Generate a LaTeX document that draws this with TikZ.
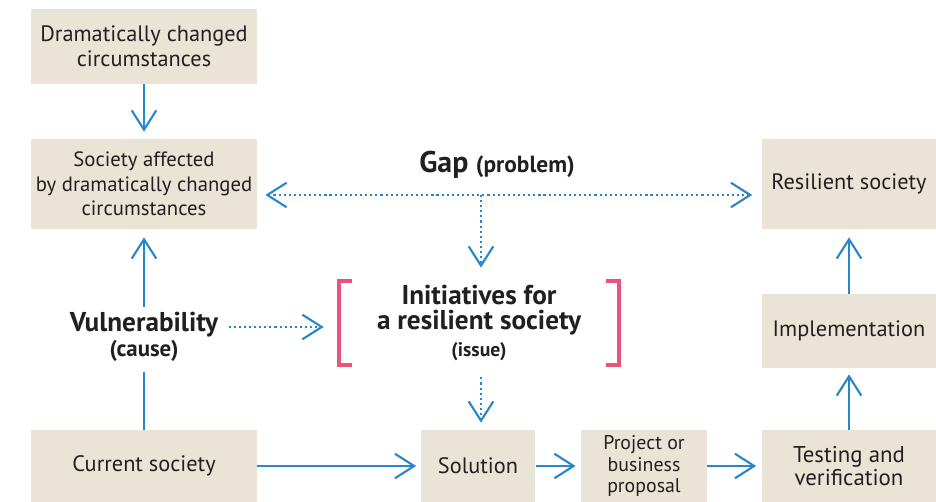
\documentclass[tikz,border=0pt]{standalone}
\usepackage{fontspec}
\setmainfont{PT Sans}
\usetikzlibrary{arrows.meta,positioning}

\definecolor{boxbeige}{RGB}{234,228,214}
\definecolor{flowblue}{RGB}{40,134,202}
\definecolor{bracketpink}{RGB}{233,84,124}
\definecolor{inkgray}{RGB}{35,31,32}

\tikzset{
    box/.style={fill=boxbeige, text=inkgray, align=center, inner sep=0pt,
        font=\fontsize{12.7}{14}\selectfont},
    flow/.style={draw=flowblue, line width=1.2pt, -{Straight Barb[length=11pt,width=14pt]}},
    hint/.style={flow, dash pattern=on 1.2pt off 1.7pt},
    cue/.style={text=inkgray, align=center, inner sep=0pt, font=\fontsize{15.5}{14.6}\selectfont\bfseries},
    bracket/.style={draw=bracketpink, line width=2.3pt},
}

\begin{document}
\begin{tikzpicture}[x=0.02cm, y=-0.02cm]

    \useasboundingbox (0,0) rectangle (936,502);

    % Left column
    \node[box, minimum width=4.52cm, minimum height=1.5cm] (dramatic) at (144,46.5) {Dramatically changed\\circumstances};
    \node[box, minimum width=4.52cm, minimum height=1.8cm, font=\fontsize{11.8}{13.9}\selectfont] (affected) at (144,184) {Society affected\\by dramatically changed\\circumstances};
    \node[cue] (vuln) at (144,337) {Vulnerability\\{\fontsize{13}{14}\selectfont (cause)}};
    \node[box, minimum width=4.52cm, minimum height=1.44cm] (current) at (144,466) {Current society};

    % Bottom row
    \node[box, minimum width=2.3cm, minimum height=1.44cm] (solution) at (478,466) {Solution};
    \node[box, minimum width=2.52cm, minimum height=1.44cm, font=\fontsize{11.3}{12.4}\selectfont] (proposal) at (644,466) {Project or\\business\\proposal};
    \node[box, minimum width=3.5cm, minimum height=1.44cm, font=\fontsize{13}{13.6}\selectfont] (testing) at (849,466) {Testing and\\verification};

    % Right column
    \node[box, minimum width=3.5cm, minimum height=1.48cm] (implement) at (849,331) {Implementation};
    \node[box, minimum width=3.5cm, minimum height=1.8cm] (resilient) at (849,184) {Resilient society};

    % Middle
    \node[cue] (gap) at (497,165) {\fontsize{17}{18}\selectfont Gap \fontsize{13.3}{14}\selectfont(problem)};
    \node[cue, minimum width=5.6cm, minimum height=1.68cm] (initiative) at (479,323) {Initiatives for\\a resilient society\\[0.8pt]{\fontsize{11.2}{14}\selectfont (issue)}};
    \draw[bracket] ([xshift=0.26cm]initiative.north west) -- (initiative.north west) -- (initiative.south west) -- ++(13,0);
    \draw[bracket] ([xshift=-0.26cm]initiative.north east) -- (initiative.north east) -- (initiative.south east) -- ++(-13,0);

    % Solid flows
    \draw[flow, shorten >=0.14cm] (dramatic) -- (affected);
    \draw[flow, -, shorten >=0.2cm] (current) -- (vuln);
    \draw[flow, shorten <=0.1cm, shorten >=0.16cm] (vuln) -- (affected);
    \draw[flow, shorten >=0.08cm] (current) -- (solution);
    \draw[flow, shorten >=0.1cm] (solution) -- (proposal);
    \draw[flow, shorten >=0.1cm] (proposal) -- (testing);
    \draw[flow, shorten >=0.12cm] (testing) -- (implement);
    \draw[flow, shorten >=0.16cm] (implement) -- (resilient);

    % Dotted flows
    \coordinate (gapjoin) at (481,195);
    \draw[hint, {Straight Barb[length=11pt,width=14pt]}-{Straight Barb[length=11pt,width=14pt]}, shorten <=0.16cm, shorten >=0.18cm]
        (affected.east |- gapjoin) -- (resilient.west |- gapjoin);
    \draw[hint, shorten >=0.26cm] (gapjoin) -- (gapjoin |- initiative.north);
    \draw[hint, shorten <=0.2cm, shorten >=0.3cm] ([yshift=0.2cm]vuln.east) -- ([yshift=0.2cm]vuln.east -| initiative.west);
    \draw[hint, shorten <=0.24cm, shorten >=0.14cm] (gapjoin |- initiative.south) -- (gapjoin |- solution.north);

\end{tikzpicture}
\end{document}
